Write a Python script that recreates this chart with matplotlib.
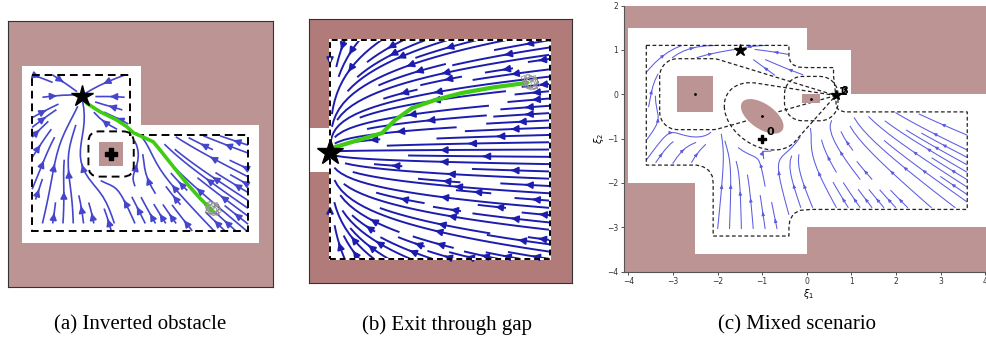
import numpy as np
import matplotlib.pyplot as plt
from matplotlib.path import Path
from matplotlib.patches import Polygon, Rectangle, Ellipse, FancyBboxPatch

BROWN_A = '#bc9494'
BROWN_B = '#b07b79'
GREEN = '#3fcc12'

# ---------------- panel (a): inverted obstacle ----------------
a_free = [(0.53, 8.31), (5.02, 8.31), (5.02, 6.09), (9.47, 6.09), (9.47, 1.65), (0.53, 1.65)]
a_bound = [(0.91, 7.97), (4.60, 7.97), (4.60, 5.71), (9.06, 5.71), (9.06, 2.11), (0.91, 2.11)]
a_obst = (3.89, 5.00, 0.455, 0.45)     # centre x, centre y, half width, half height
a_margin = 0.4
a_goal = (2.78, 7.18)
a_traj_x = [2.78, 2.97, 3.47, 4.10, 4.48, 4.73, 5.11, 5.48, 5.74, 6.24, 6.74, 7.25, 7.75]
a_traj_y = [7.18, 6.91, 6.59, 6.28, 6.03, 5.80, 5.63, 5.46, 5.15, 4.52, 3.90, 3.33, 2.83]

# ---------------- panel (b): exit through gap ----------------
b_room = (0.80, 0.91, 9.16, 9.20)      # x0, y0, x1, y1
b_gap = (4.20, 5.87)
b_goal = (0.80, 4.96)
b_traj_x = [0.80, 0.99, 2.78, 3.27, 3.92, 4.79, 5.82, 7.07, 8.29]
b_traj_y = [4.96, 5.15, 5.68, 6.17, 6.63, 6.93, 7.20, 7.42, 7.58]

# ---------------- panel (c): mixed scenario ----------------
c_free = [(-4.0, 1.5), (0.0, 1.5), (0.0, 1.0), (1.0, 1.0), (1.0, 0.0), (4.3, 0.0), (4.3, -3.0),
          (0.0, -3.0), (0.0, -3.6), (-2.5, -3.6), (-2.5, -2.0), (-4.0, -2.0)]
c_bound = [(-3.6, 1.1), (-0.4, 1.1), (-0.4, 0.85), (-0.37, 0.74), (-0.3, 0.66), (-0.18, 0.61),
           (0.0, 0.6), (0.6, 0.6), (0.6, 0.42), (0.65, -0.03), (0.66, -0.28), (0.72, -0.36),
           (0.85, -0.4), (3.6, -0.4), (3.6, -2.6), (0.1, -2.6), (-0.15, -2.62), (-0.3, -2.7),
           (-0.38, -2.85), (-0.4, -3.0), (-0.4, -3.2), (-2.1, -3.2), (-2.1, -2.0), (-2.12, -1.85),
           (-2.2, -1.72), (-2.32, -1.64), (-2.47, -1.6), (-3.6, -1.6)]
c_square = (-2.5, 0.0, 0.4, 0.4)
c_rect = (0.1, -0.1, 0.2, 0.1)
c_ellipse = (-1.0, -0.5, 0.55, 0.28, -35)   # centre, semi axes, angle
c_margin = 0.4
c_ref = (0.65, -0.03)
c_goal = (-1.5, 1.0)
c_start = (-1.0, -1.0)


def modulated_field(X, Y, goal, obstacles):
    U = goal[0] - X
    V = goal[1] - Y
    for cx, cy, R in obstacles:
        dx, dy = X - cx, Y - cy
        d = np.hypot(dx, dy) + 1e-9
        gam = np.maximum(d / R, 1.001) ** 2
        nx, ny = dx / d, dy / d
        un = U * nx + V * ny
        ut = -U * ny + V * nx
        un = np.where(un < 0, un * (1 - 1 / gam), un)
        ut = ut * (1 + 1 / gam)
        U, V = un * nx - ut * ny, un * ny + ut * nx
    return U, V


def rect_dist(X, Y, box):
    cx, cy, hw, hh = box
    dx = np.maximum(np.abs(X - cx) - hw, 0)
    dy = np.maximum(np.abs(Y - cy) - hh, 0)
    return np.hypot(dx, dy)


def rounded_rect(box, r, n=10):
    cx, cy, hw, hh = box
    pts = []
    for sx, sy, a0 in [(1, 1, 0), (-1, 1, 90), (-1, -1, 180), (1, -1, 270)]:
        for a in np.radians(np.linspace(a0, a0 + 90, n)):
            pts.append((cx + sx * hw + r * np.cos(a), cy + sy * hh + r * np.sin(a)))
    return pts


def convex_hull(pts):
    pts = sorted(set(pts))
    def cross(o, a, b):
        return (a[0] - o[0]) * (b[1] - o[1]) - (a[1] - o[1]) * (b[0] - o[0])
    lower, upper = [], []
    for p in pts:
        while len(lower) >= 2 and cross(lower[-2], lower[-1], p) <= 0:
            lower.pop()
        lower.append(p)
    for p in reversed(pts):
        while len(upper) >= 2 and cross(upper[-2], upper[-1], p) <= 0:
            upper.pop()
        upper.append(p)
    return lower[:-1] + upper[:-1]


def scribble(ax, x0, y0, s):
    sx = [0, .15, .3, .1, -.2, -.3, -.05, .25, .35, .05, -.25, -.15, .2, .3, 0, -.2, .1, .28, -.1]
    sy = [0, .2, .05, -.15, -.05, .2, .3, .15, -.1, -.25, -.1, .15, .25, 0, -.2, 0, .12, -.2, -.15]
    ax.plot(x0 + s * np.array(sx), y0 + s * np.array(sy), color='#888888', lw=0.5, zorder=4)
    ax.plot(x0 + s * np.array(sy) * 0.9, y0 + s * np.array(sx) * 0.8, color='#999999', lw=0.5, zorder=4)


fig = plt.figure(figsize=(9.86, 3.41), dpi=100)

# ================= (a) =================
ax = fig.add_axes([8 / 986, 54 / 341, 265 / 986, 266 / 341])
ax.set_facecolor(BROWN_A)
ax.set_xlim(0, 10)
ax.set_ylim(0, 10)
ax.add_patch(Polygon(a_free, closed=True, fc='white', ec='none', zorder=1))
xa = np.linspace(0.91, 9.06, 170)
ya = np.linspace(2.11, 7.97, 130)
Xa, Ya = np.meshgrid(xa, ya)
Ua, Va = modulated_field(Xa, Ya, a_goal, [(a_obst[0], a_obst[1], 1.0)])
inside = Path(a_bound).contains_points(np.c_[Xa.ravel(), Ya.ravel()]).reshape(Xa.shape)
blocked = ~inside | (rect_dist(Xa, Ya, a_obst) < a_margin)
Ua[blocked] = np.nan
Va[blocked] = np.nan
ax.streamplot(xa, ya, Ua, Va, color='#4646cc', linewidth=1.2, density=0.75, arrowsize=1.0, zorder=2)
ax.add_patch(Polygon(a_bound, closed=True, fill=False, ec='black', lw=1.4, ls=(0, (4, 2.5)), zorder=3))
ox, oy, ohw, ohh = a_obst
ax.add_patch(Rectangle((ox - ohw, oy - ohh), 2 * ohw, 2 * ohh, fc=BROWN_A, ec='none', zorder=3))
ax.add_patch(FancyBboxPatch((ox - ohw, oy - ohh), 2 * ohw, 2 * ohh, boxstyle='round,pad=%g' % a_margin,
                            fill=False, ec='black', lw=1.4, ls=(0, (4, 2.5)), zorder=3))
ax.plot(ox, oy, marker='P', color='black', markersize=9, zorder=5)
ax.plot(a_traj_x, a_traj_y, color=GREEN, lw=2.6, zorder=4, solid_capstyle='round')
scribble(ax, a_traj_x[-1] - 0.05, a_traj_y[-1] + 0.1, 1.0)
ax.plot(*a_goal, marker='*', color='black', markersize=16, zorder=6)
ax.set_xticks([])
ax.set_yticks([])
for s in ax.spines.values():
    s.set_color('#333333')
    s.set_linewidth(0.8)

# ================= (b) =================
ax = fig.add_axes([309 / 986, 58 / 341, 263 / 986, 264 / 341])
ax.set_facecolor(BROWN_B)
ax.set_xlim(0, 10)
ax.set_ylim(0, 10)
x0, y0, x1, y1 = b_room
ax.add_patch(Rectangle((x0, y0), x1 - x0, y1 - y0, fc='white', ec='none', zorder=1))
ax.add_patch(Rectangle((0, b_gap[0]), x0, b_gap[1] - b_gap[0], fc='white', ec='none', zorder=1))
xb = np.linspace(x0, x1, 150)
yb = np.linspace(y0, y1, 150)
Xb, Yb = np.meshgrid(xb, yb)
Ub = -(Xb - b_goal[0])
Vb = -0.32 * (Yb - b_goal[1])
ax.streamplot(xb, yb, Ub, Vb, color='#1c1cae', linewidth=1.4, density=1.05, arrowsize=1.0, zorder=2)
ax.add_patch(Rectangle((x0, y0), x1 - x0, y1 - y0, fill=False, ec='white', lw=1.4, zorder=3))
ax.add_patch(Rectangle((x0, y0), x1 - x0, y1 - y0, fill=False, ec='black', lw=1.4,
                       ls=(0, (3, 2)), zorder=3))
ax.plot(b_traj_x, b_traj_y, color=GREEN, lw=3.0, zorder=4, solid_capstyle='round')
scribble(ax, b_traj_x[-1] + 0.1, b_traj_y[-1], 1.1)
ax.plot(*b_goal, marker='*', color='black', markersize=19, zorder=6)
ax.set_xticks([])
ax.set_yticks([])
for s in ax.spines.values():
    s.set_color('#333333')
    s.set_linewidth(0.8)

# ================= (c) =================
ax = fig.add_axes([624 / 986, 69.5 / 341, 370 / 986, 266 / 341])
ax.set_facecolor(BROWN_A)
ax.set_xlim(-4.1, 4.2)
ax.set_ylim(-4, 1.98)
ax.add_patch(Polygon(c_free, closed=True, fc='white', ec='none', zorder=1))

ecx, ecy, ea, eb, eang = c_ellipse
t = np.linspace(0, 2 * np.pi, 60)
th = np.radians(eang)
em = 0.38
ell_pts = [(ecx + (ea + em) * np.cos(a) * np.cos(th) - (eb + em) * np.sin(a) * np.sin(th),
            ecy + (ea + em) * np.cos(a) * np.sin(th) + (eb + em) * np.sin(a) * np.cos(th)) for a in t]
hull_sq = convex_hull(rounded_rect(c_square, c_margin) + [c_ref])
hull_el = convex_hull(ell_pts + [c_ref])
hull_re = rounded_rect(c_rect, c_margin)

xc = np.linspace(-3.6, 3.6, 220)
yc = np.linspace(-3.2, 1.1, 140)
Xc, Yc = np.meshgrid(xc, yc)
Uc, Vc = modulated_field(Xc, Yc, c_goal, [(-2.5, 0.0, 0.9), (-1.0, -0.5, 0.9), (0.1, -0.1, 0.6)])
P = np.c_[Xc.ravel(), Yc.ravel()]
blocked = ~Path(c_bound).contains_points(P)
for h in (hull_sq, hull_el, hull_re):
    blocked |= Path(h).contains_points(P)
blocked = blocked.reshape(Xc.shape)
Uc[blocked] = np.nan
Vc[blocked] = np.nan
ax.streamplot(xc, yc, Uc, Vc, color='#5c5ce0', linewidth=0.75, density=0.95, arrowsize=0.45, zorder=2)

ax.add_patch(Polygon(c_bound, closed=True, fill=False, ec='#222222', lw=0.9, ls=(0, (3, 2)), zorder=3))
for h in (hull_sq, hull_el, hull_re):
    ax.add_patch(Polygon(h, closed=True, fill=False, ec='#222222', lw=0.9, ls=(0, (3, 2)), zorder=3))
sx, sy, shw, shh = c_square
ax.add_patch(Rectangle((sx - shw, sy - shh), 2 * shw, 2 * shh, fc=BROWN_A, ec='none', zorder=3))
rx, ry, rhw, rhh = c_rect
ax.add_patch(Rectangle((rx - rhw, ry - rhh), 2 * rhw, 2 * rhh, fc=BROWN_A, ec='none', zorder=3))
ax.add_patch(Ellipse((ecx, ecy), 2 * ea, 2 * eb, angle=eang, fc=BROWN_A, ec='none', zorder=3))
ax.plot([sx, ecx, rx], [sy, ecy, ry], 'k.', markersize=2, zorder=4)
ax.plot(*c_goal, marker='*', color='black', markersize=9, zorder=6)
ax.plot(*c_start, marker='P', color='black', markersize=6, zorder=6)
ax.text(c_start[0] + 0.1, c_start[1] + 0.08, '0', fontsize=8, fontweight='bold', zorder=6)
ax.plot(*c_ref, marker='*', color='black', markersize=7, zorder=6)
for k, lab in enumerate(['1', '2', '3']):
    ax.text(c_ref[0] + 0.08 + 0.02 * k, c_ref[1] + 0.0 + 0.02 * k, lab, fontsize=7,
            fontweight='bold', zorder=6)
ax.set_xticks(range(-4, 5))
ax.set_yticks(range(-4, 3))
ax.set_xticklabels([str(v).replace('-', '\u2212') for v in range(-4, 5)])
ax.set_yticklabels([str(v).replace('-', '\u2212') for v in range(-4, 3)])
ax.tick_params(labelsize=5.5, length=2.5, width=0.6, pad=1.5, colors='#333333')
ax.set_xlabel(r'$\xi_1$', fontsize=7, labelpad=1)
ax.set_ylabel(r'$\xi_2$', fontsize=7, labelpad=1)
ax.spines['top'].set_visible(False)
ax.spines['right'].set_visible(False)
for s in ('left', 'bottom'):
    ax.spines[s].set_color('#555555')
    ax.spines[s].set_linewidth(0.8)

# ================= captions =================
cap = dict(fontsize=15, family='Liberation Serif', ha='center', va='center')
fig.text(140 / 986, 1 - 325 / 341, '(a) Inverted obstacle', **cap)
fig.text(447 / 986, 1 - 325 / 341, '(b) Exit through gap', **cap)
fig.text(797 / 986, 1 - 325 / 341, '(c) Mixed scenario', **cap)

fig.savefig('out.png', dpi=100)
